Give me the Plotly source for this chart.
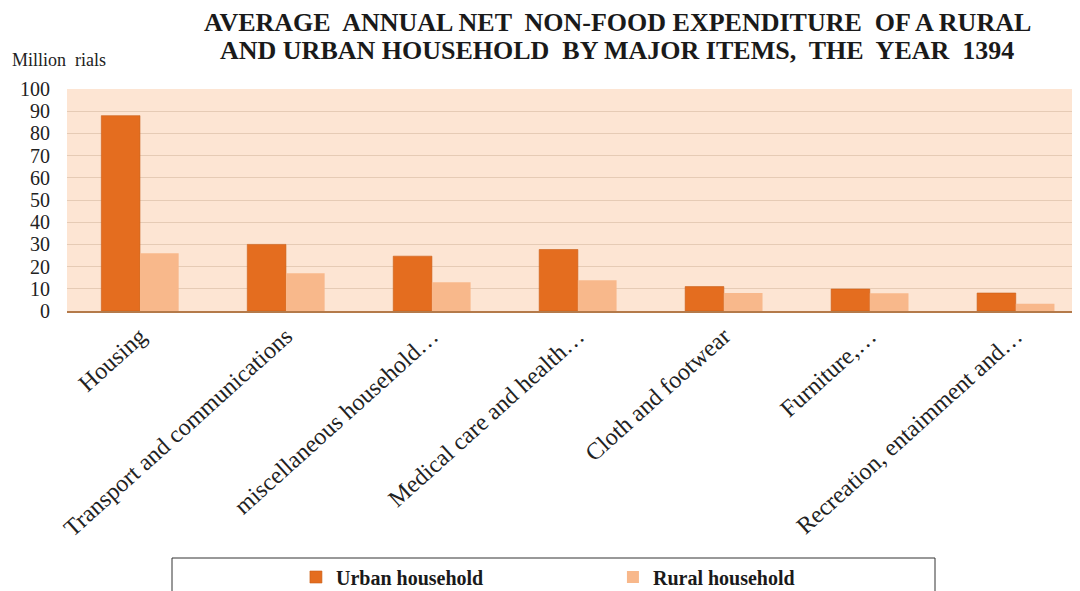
import plotly.graph_objects as go

categories = ["Housing", "Transport and communications", "miscellaneous household…",
              "Medical care and health…", "Cloth and footwear", "Furniture,…",
              "Recreation, entaimment and…"]
urban = [88, 30, 24.7, 27.7, 11, 9.9, 8.1]
rural = [26, 17, 12.9, 13.9, 8.1, 8.0, 3.3]
y_ticks = [0, 10, 20, 30, 40, 50, 60, 70, 80, 90, 100]
title_lines = ["AVERAGE  ANNUAL NET  NON-FOOD EXPENDITURE  OF A RURAL",
               "AND URBAN HOUSEHOLD  BY MAJOR ITEMS,  THE  YEAR  1394"]

SERIF = "Liberation Serif, Times New Roman, serif"

fig = go.Figure()
fig.add_trace(go.Bar(x=categories, y=urban, name="<b>Urban household</b>",
                     marker=dict(color="#E46D1F", line=dict(color="#C9601A", width=0.6))))
fig.add_trace(go.Bar(x=categories, y=rural, name="<b>Rural household</b>",
                     marker=dict(color="#F8B88B", line=dict(width=0))))

# plot area in image pixels: x 67..1080, y 89..311
def py(ypx):
    return (311 - ypx) / 222

def px(xpx):
    return (xpx - 67) / 1013

annotations = [dict(text="Million  rials", xref="paper", yref="paper",
                    x=px(10), y=py(60), xanchor="left", yanchor="middle",
                    showarrow=False, font=dict(family=SERIF, size=18, color="#222222"))]
for line, ypx in zip(title_lines, [22, 50]):
    annotations.append(dict(text="<b>" + line + "</b>", xref="paper", yref="paper",
                            x=px(617), y=py(ypx),
                            xanchor="center", yanchor="middle", showarrow=False,
                            font=dict(family=SERIF, size=26, color="#1a1a1a")))

# page body has an 8px margin: figure is offset by 8px
fig.update_layout(
    width=1072, height=583,
    margin=dict(l=59, r=0, t=81, b=280, autoexpand=False),
    paper_bgcolor="white",
    plot_bgcolor="#FDE5D3",
    barmode="group",
    bargap=0.47,
    bargroupgap=0,
    font=dict(family=SERIF, color="#222222"),
    showlegend=True,
    legend=dict(
        orientation="h", x=0.226, xanchor="left", y=1 - 569 / 583, yanchor="middle",
        xref="paper", yref="container",
        font=dict(family=SERIF, size=20, color="#1a1a1a"),
        entrywidth=272, entrywidthmode="pixels",
        bgcolor="rgba(0,0,0,0)", borderwidth=0,
    ),
    xaxis=dict(
        range=[-0.5, 6.44],
        tickangle=-42,
        tickfont=dict(family=SERIF, size=24, color="#222222"),
        showgrid=False,
        showline=True, linecolor="#B47A4A", linewidth=1.5,
        ticks="", automargin=False,
    ),
    yaxis=dict(
        range=[0, 100],
        tickvals=y_ticks,
        tickfont=dict(family=SERIF, size=20, color="#222222"),
        showgrid=True, gridcolor="#E6CBB5", gridwidth=1,
        zeroline=False, showline=False, ticks="",
        ticklabelstandoff=16, automargin=False,
    ),
    shapes=[dict(type="rect", xref="paper", yref="paper",
                 x0=px(172), x1=px(935), y0=py(558), y1=py(620),
                 line=dict(color="#333333", width=1), fillcolor="rgba(0,0,0,0)")],
    annotations=annotations,
)

fig.write_html("out.html")
